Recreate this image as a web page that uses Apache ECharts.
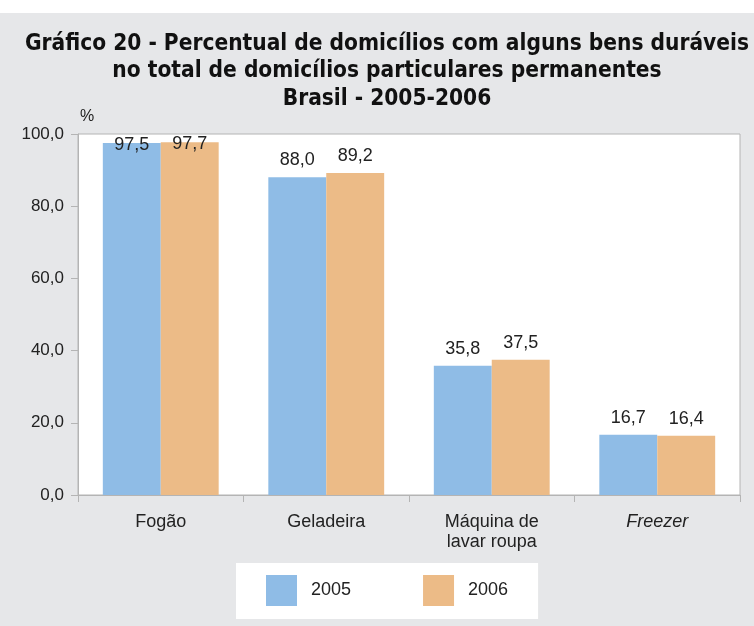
<!DOCTYPE html>
<html>
<head>
<meta charset="utf-8">
<script src="https://cdn.jsdelivr.net/npm/echarts@6/dist/echarts.min.js"></script>
<style>
  html, body { margin: 0; padding: 0; background: #fff; }
  #chart { width: 754px; height: 626px; }
</style>
</head>
<body>
<div id="chart"></div>
<script>
// dados do gráfico
var categorias = ['Fogão', 'Geladeira', 'Máquina de\nlavar roupa', 'Freezer'];
var anos = ['2005', '2006'];
var valores2005 = [97.5, 88.0, 35.8, 16.7];
var valores2006 = [97.7, 89.2, 37.5, 16.4];
var ticksY = [0, 20, 40, 60, 80, 100];

var cores = ['#8fbce6', '#ecbb87'];
var fonte = '"Liberation Sans", Arial, sans-serif';

function virgula(v) {
    return v.toFixed(1).replace('.', ',');
}

// rótulos perto do topo do eixo ficam dentro da barra
function montaDados(lista) {
    return lista.map(function (v) {
        if (v > 95) {
            return { value: v, label: { position: 'insideTop', distance: -7 } };
        }
        return v;
    });
}

var myChart = echarts.init(document.getElementById('chart'));

var option = {
    backgroundColor: '#fff',
    animation: false,
    graphic: [
        {
            type: 'rect', z: -10, silent: true,
            shape: { x: 0, y: 13, width: 754, height: 613 },
            style: { fill: '#e6e7e9' }
        },
        {
            type: 'text', left: 80, top: 109,
            style: { text: '%', fontSize: 16, fontFamily: fonte, fill: '#222' }
        }
    ],
    title: {
        text: 'Gráfico 20 - Percentual de domicílios com alguns bens duráveis\nno total de domicílios particulares permanentes\nBrasil - 2005-2006',
        left: 382,
        top: 25,
        textAlign: 'center',
        textStyle: {
            fontFamily: '"DejaVu Sans Condensed", sans-serif',
            fontWeight: 'bold',
            fontSize: 22.5,
            lineHeight: 27.5,
            color: '#111'
        }
    },
    legend: {
        data: anos,
        left: 236,
        top: 563,
        backgroundColor: '#fff',
        padding: [12, 30, 13, 30],
        itemWidth: 31,
        itemHeight: 31,
        itemGap: 72,
        icon: 'rect',
        textStyle: {
            fontFamily: fonte,
            fontSize: 18,
            color: '#222',
            padding: [0, 0, 0, 9]
        }
    },
    grid: {
        left: 78,
        right: 14,
        top: 134,
        bottom: 131,
        show: true,
        backgroundColor: '#fff',
        borderColor: '#b4b4b4',
        borderWidth: 1
    },
    xAxis: {
        type: 'category',
        data: categorias.map(function (c) {
            return c === 'Freezer' ? { value: c, textStyle: { fontStyle: 'italic' } } : c;
        }),
        axisLine: { lineStyle: { color: '#b4b4b4' } },
        axisTick: { show: true, length: 7, lineStyle: { color: '#b4b4b4' } },
        axisLabel: {
            fontFamily: fonte,
            fontSize: 18,
            color: '#222',
            margin: 17,
            lineHeight: 20
        }
    },
    yAxis: {
        type: 'value',
        min: 0,
        max: 100,
        interval: 20,
        axisLine: { show: true, lineStyle: { color: '#b4b4b4' } },
        axisTick: { show: true, length: 7, lineStyle: { color: '#b4b4b4' } },
        splitLine: { show: false },
        axisLabel: {
            fontFamily: fonte,
            fontSize: 17,
            color: '#222',
            margin: 14,
            formatter: function (v) { return virgula(v); }
        }
    },
    series: [
        {
            name: anos[0],
            type: 'bar',
            data: montaDados(valores2005),
            itemStyle: { color: cores[0] },
            barGap: '0%',
            barCategoryGap: '30%',
            label: {
                show: true, position: 'top', distance: 8,
                fontFamily: fonte, fontSize: 18, color: '#222',
                formatter: function (p) { return virgula(p.value); }
            }
        },
        {
            name: anos[1],
            type: 'bar',
            data: montaDados(valores2006),
            itemStyle: { color: cores[1] },
            barGap: '0%',
            barCategoryGap: '30%',
            label: {
                show: true, position: 'top', distance: 8,
                fontFamily: fonte, fontSize: 18, color: '#222',
                formatter: function (p) { return virgula(p.value); }
            }
        }
    ]
};

myChart.setOption(option);
</script>
</body>
</html>
